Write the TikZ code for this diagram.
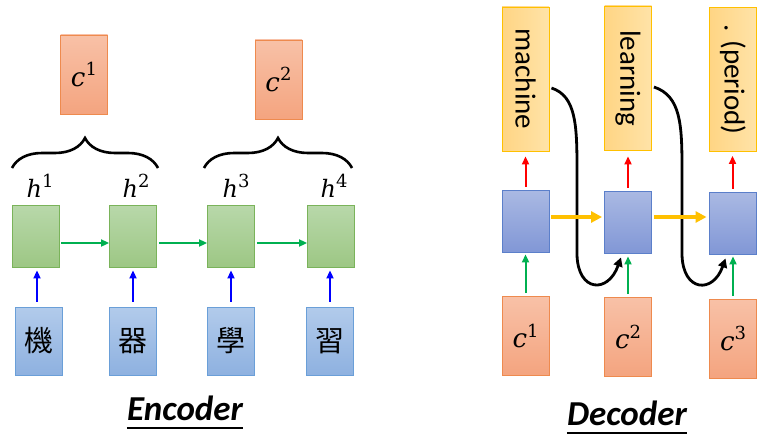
\documentclass[tikz,border=0pt]{standalone}
\usepackage{fontspec}
\newfontfamily\cjk{Noto Sans CJK TC}
\newfontfamily\calib{Carlito}
\newfontfamily\mth{DejaVu Serif}
\newcommand{\mvar}[2]{{\mth\itshape #1}\raisebox{0.40em}{\mth\fontsize{18}{19}\selectfont #2}}
\usetikzlibrary{arrows.meta,decorations.pathreplacing}
\definecolor{orTop}{HTML}{F8C1A7}
\definecolor{orBot}{HTML}{F4A47F}
\definecolor{orLine}{HTML}{EE8A4E}
\definecolor{grTop}{HTML}{B8D8AA}
\definecolor{grBot}{HTML}{9DC784}
\definecolor{grLine}{HTML}{7AB35A}
\definecolor{inTop}{HTML}{B2CBEB}
\definecolor{inBot}{HTML}{8EB1E0}
\definecolor{inLine}{HTML}{6A9FD8}
\definecolor{deTop}{HTML}{AAB9E3}
\definecolor{deBot}{HTML}{8197D6}
\definecolor{deLine}{HTML}{5B7FCA}
\definecolor{yeL}{HTML}{FFD584}
\definecolor{yeR}{HTML}{FFE3A8}
\definecolor{yeLine}{HTML}{FFC000}
\definecolor{arrGreen}{HTML}{00B050}
\definecolor{arrYellow}{HTML}{FFC000}
\tikzset{
  basebox/.style={rectangle, inner sep=0pt, minimum width=47pt, line width=0.9pt},
  obox/.style={basebox, draw=orLine, top color=orTop, bottom color=orBot, minimum height=79pt, font=\fontsize{26}{30}\selectfont},
  gbox/.style={basebox, draw=grLine, top color=grTop, bottom color=grBot, minimum height=62pt},
  ibox/.style={basebox, draw=inLine, top color=inTop, bottom color=inBot, minimum height=68pt},
  dbox/.style={basebox, draw=deLine, top color=deTop, bottom color=deBot, minimum height=62pt},
  ybox/.style={basebox, draw=yeLine, left color=yeL, right color=yeR, minimum height=144pt},
  mlabel/.style={inner sep=0pt, font=\fontsize{24}{28}\selectfont},
  cjklabel/.style={font=\cjk\fontsize{29}{32}\selectfont},
  wlabel/.style={font=\calib\fontsize{29}{32}\selectfont},
  title/.style={inner sep=0pt, font=\calib\bfseries\itshape\fontsize{35}{40}\selectfont},
  garrow/.style={draw=arrGreen, line width=2pt, -{Triangle[length=8pt,width=7pt]}},
  barrow/.style={draw=blue, line width=2.4pt, -{Triangle[length=8pt,width=7pt]}},
  rarrow/.style={draw=red, line width=2pt, -{Triangle[length=8pt,width=7pt]}},
  yarrow/.style={draw=arrYellow, line width=4pt, -{Triangle[length=11pt,width=11pt]}},
  karrow/.style={draw=black, line width=2.8pt, -{Triangle[length=9pt,width=9pt]}},
  bracestyle/.style={line width=2.6pt, decorate, decoration={brace, amplitude=30pt}},
}
\begin{document}
\begin{tikzpicture}[x=1pt,y=1pt]
\useasboundingbox (0,0) rectangle (767,-433);
% ---------------- Encoder ----------------
\node[obox] (ec1) at (84,-74.5) {\mvar{c}{1}};
\node[obox] (ec2) at (278.5,-79.5) {\mvar{c}{2}};
\draw[bracestyle] (12,-168) -- (158,-168);
\draw[bracestyle] (204,-168) -- (352,-168);
\node[mlabel] (lh1) at (40,-186) {\mvar{h}{1}};
\node[mlabel] (lh2) at (136,-186) {\mvar{h}{2}};
\node[mlabel] (lh3) at (236,-186) {\mvar{h}{3}};
\node[mlabel] (lh4) at (334,-186) {\mvar{h}{4}};
\node[gbox] (h1) at (35.5,-236) {};
\node[gbox] (h2) at (133,-236) {};
\node[gbox] (h3) at (231,-236) {};
\node[gbox] (h4) at (331,-236) {};
\draw[garrow] ([xshift=2pt,yshift=-7pt]h1.east) -- ([yshift=-7pt]h2.west);
\draw[garrow] ([xshift=2pt,yshift=-7pt]h2.east) -- ([yshift=-7pt]h3.west);
\draw[garrow] ([xshift=2pt,yshift=-7pt]h3.east) -- ([yshift=-7pt]h4.west);
\node[ibox, cjklabel] (i1) at (38.5,-341) {機};
\node[ibox, cjklabel] (i2) at (133,-341) {器};
\node[ibox, cjklabel] (i3) at (231,-341) {學};
\node[ibox, cjklabel] (i4) at (330,-341) {習};
\draw[barrow] ([xshift=-1.5pt,yshift=5pt]i1.north) -- ([xshift=-1.5pt,yshift=-3pt]i1.north |- h1.south);
\draw[barrow] ([yshift=5pt]i2.north) -- ([yshift=-3pt]h2.south);
\draw[barrow] ([yshift=5pt]i3.north) -- ([yshift=-3pt]h3.south);
\draw[barrow] ([yshift=5pt]i4.north) -- ([yshift=-3pt]i4.north |- h4.south);
\node[title] (enc) at (185,-408) {Encoder};
\draw[line width=2pt] ([yshift=-7pt]enc.south west) -- ([yshift=-7pt]enc.south east);
% ---------------- Decoder ----------------
\node[ybox, wlabel] (y1) at (525.5,-79) {\rotatebox{-90}{machine}};
\node[ybox, wlabel] (y2) at (628,-78) {\rotatebox{-90}{learning}};
\node[ybox, wlabel] (y3) at (733,-79.5) {\rotatebox{-90}{. (period)}};
\node[dbox] (d1) at (525.5,-221) {};
\node[dbox] (d2) at (628,-222) {};
\node[dbox] (d3) at (732.5,-223) {};
\draw[rarrow] ([yshift=3pt]d1.north) -- ([yshift=-5pt]d1.north |- y1.south);
\draw[rarrow] ([yshift=3pt]d2.north) -- ([yshift=-6pt]d2.north |- y2.south);
\draw[rarrow] ([yshift=3pt]d3.north) -- ([yshift=-4pt]d3.north |- y3.south);
\node[obox] (c1) at (525.5,-336) {\mvar{c}{1}};
\node[obox] (c2) at (628,-337) {\mvar{c}{2}};
\node[obox] (c3) at (733,-338.5) {\mvar{c}{3}};
\draw[garrow] ([yshift=3pt]c1.north) -- ([yshift=-2pt]c1.north |- d1.south);
\draw[garrow] ([yshift=3pt]c2.north) -- ([yshift=-3pt]c2.north |- d2.south);
\draw[garrow] ([yshift=3pt]c3.north) -- ([yshift=-2pt]c3.north |- d3.south);
\draw[karrow] ([xshift=2pt,yshift=-9pt]y1.east) .. controls (576,-96) and (577,-125) .. (577,-170) -- (577,-255) .. controls (578,-292) and (608,-294) .. ([xshift=-7pt,yshift=-4pt]d2.south);
\draw[karrow] ([xshift=2pt,yshift=-9pt]y2.east) .. controls (681,-96) and (682,-125) .. (682,-170) -- (682,-255) .. controls (683,-292) and (713,-294) .. ([xshift=-7pt,yshift=-4pt]d3.south);
\draw[yarrow] ([xshift=2pt,yshift=4pt]d1.east) coordinate (ya) -- ([xshift=-2pt]d2.west |- ya);
\draw[yarrow] ([xshift=2pt]d2.east |- ya) coordinate (yb) -- ([xshift=-2pt]d3.west |- yb);
\node[title] (dec) at (627,-413) {Decoder};
\draw[line width=2pt] ([yshift=-7pt]dec.south west) -- ([yshift=-7pt]dec.south east);
\end{tikzpicture}
\end{document}
